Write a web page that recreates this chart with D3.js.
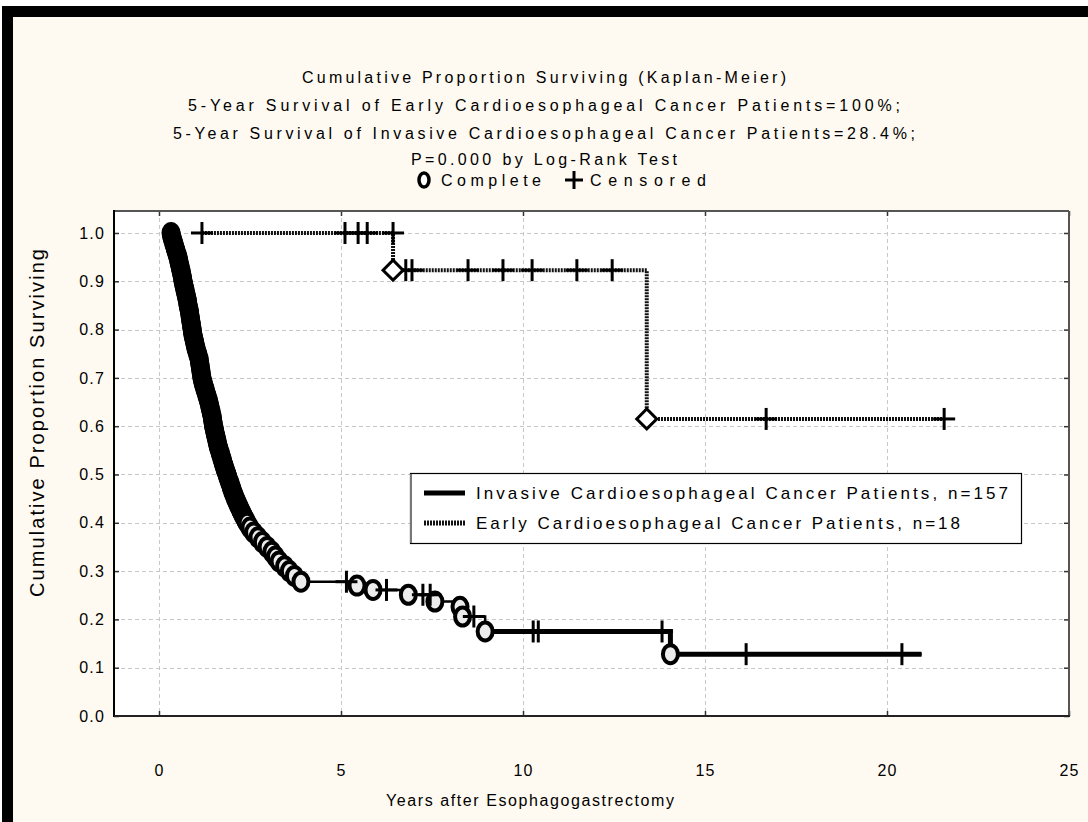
<!DOCTYPE html>
<html><head><meta charset="utf-8">
<script src="https://cdn.jsdelivr.net/npm/d3@7"></script>
<style>
body{margin:0;background:#fff}
svg{display:block}
text{font-family:"Liberation Sans",Arial,sans-serif;fill:#000}
</style>
</head><body>
<svg id="c" width="1088" height="822"></svg>
<script>
// ---------- data ----------
const titleLines = [
  "Cumulative Proportion Surviving (Kaplan-Meier)",
  "5-Year Survival of Early Cardioesophageal Cancer Patients=100%;",
  "5-Year Survival of Invasive Cardioesophageal Cancer Patients=28.4%;",
  "P=0.000 by Log-Rank Test"
];
const markerLegend = ["Complete", "Censored"];
const seriesNames = ["Invasive Cardioesophageal Cancer Patients, n=157", "Early Cardioesophageal Cancer Patients, n=18"];
const xTitle = "Years after Esophagogastrectomy";
const yTitle = "Cumulative Proportion Surviving";
const xTicks = [0, 5, 10, 15, 20, 25];
const yTicks = [0.0, 0.1, 0.2, 0.3, 0.4, 0.5, 0.6, 0.7, 0.8, 0.9, 1.0];

// Invasive group: completed (event) points
const invEventTime = [
  0.33,0.345,0.36,0.38,0.40,0.42,0.44,0.46,0.48,0.50,0.52,0.535,0.55,0.565,0.58,0.595,0.61,0.625,0.64,0.65,
  0.66,0.675,0.69,0.705,0.72,0.735,0.75,0.765,0.78,0.79,0.80,0.815,0.83,0.84,0.85,0.86,0.87,0.88,0.89,0.90,
  0.91,0.92,0.93,0.945,0.96,0.975,0.99,1.005,1.02,1.04,1.06,1.08,1.10,1.11,1.12,1.13,1.14,1.15,1.16,1.17,
  1.18,1.195,1.21,1.23,1.25,1.27,1.29,1.31,1.33,1.35,1.37,1.385,1.40,1.415,1.43,1.445,1.46,1.47,1.48,1.49,
  1.50,1.515,1.53,1.545,1.56,1.575,1.59,1.605,1.62,1.64,1.66,1.68,1.70,1.72,1.74,1.76,1.78,1.80,1.82,1.845,
  1.87,1.89,1.91,1.935,1.96,1.98,2.00,2.025,2.05,2.075,2.10,2.13,2.16,2.19,2.22,2.25,2.28,2.315,2.35,2.385,
  2.42,2.50,2.60,2.72,2.84,2.97,3.10,3.20,3.30,3.45,3.58,3.72,3.90,
  5.44,5.88,6.85,7.58,8.27,8.34,8.96,14.05];
const invEventSurv = [
  1.000,0.995,0.990,0.985,0.980,0.975,0.970,0.965,0.960,0.955,0.950,0.945,0.940,0.935,0.930,0.925,0.920,0.915,0.910,0.905,
  0.900,0.895,0.890,0.885,0.880,0.875,0.870,0.865,0.860,0.855,0.850,0.845,0.840,0.835,0.830,0.825,0.820,0.815,0.810,0.805,
  0.800,0.795,0.790,0.785,0.780,0.775,0.770,0.765,0.760,0.755,0.750,0.745,0.740,0.735,0.730,0.725,0.720,0.715,0.710,0.705,
  0.700,0.695,0.690,0.685,0.680,0.675,0.670,0.665,0.660,0.655,0.650,0.645,0.640,0.635,0.630,0.625,0.620,0.615,0.610,0.605,
  0.600,0.595,0.590,0.585,0.580,0.575,0.570,0.565,0.560,0.555,0.550,0.545,0.540,0.535,0.530,0.525,0.520,0.515,0.510,0.505,
  0.500,0.495,0.490,0.485,0.480,0.475,0.470,0.465,0.460,0.455,0.450,0.445,0.440,0.435,0.430,0.425,0.420,0.415,0.410,0.405,
  0.400,0.390,0.380,0.370,0.360,0.350,0.340,0.330,0.320,0.310,0.300,0.290,0.278,
  0.270,0.261,0.251,0.237,0.226,0.206,0.175,0.128];
const invLastTime = 20.95;
const invCensorTime = [5.15, 6.25, 7.25, 7.45, 8.65, 10.28, 10.42, 13.82, 16.13, 20.41];
const invCensorSurv = [0.278, 0.261, 0.251, 0.251, 0.206, 0.175, 0.175, 0.175, 0.128, 0.128];

// Early group
const earlyCurveTime = [1.18, 6.43, 13.4, 21.6];
const earlyCurveSurv = [1.0, 0.923, 0.615, 0.615];
const earlyEventTime = [6.43, 13.4];
const earlyEventSurv = [0.923, 0.615];
const earlyCensorTime = [1.18, 5.11, 5.47, 5.72, 6.43, 6.78, 6.95, 8.49, 9.45, 10.25, 11.48, 12.45, 16.68, 21.57];
const earlyCensorSurv = [1.0, 1.0, 1.0, 1.0, 1.0, 0.923, 0.923, 0.923, 0.923, 0.923, 0.923, 0.923, 0.615, 0.615];

// ---------- drawing ----------
const FONT = '"Liberation Sans",Arial,sans-serif';
const svg = d3.select("#c");
svg.append("rect").attr("x",0).attr("y",0).attr("width",1088).attr("height",822).attr("fill","#fff");
svg.append("rect").attr("x",2).attr("y",6).attr("width",1086).attr("height",816).attr("fill","#000");
svg.append("rect").attr("x",13).attr("y",17).attr("width",1075).attr("height",805).attr("fill","#fffaf1");

const L = 114, R = 1069, T = 211, B = 716;
const x = d3.scaleLinear().domain([-1.236, 25]).range([L, R]);
const y = d3.scaleLinear().domain([0, 1.0455]).range([B, T]);

svg.append("rect").attr("x",L).attr("y",T).attr("width",R-L).attr("height",B-T).attr("fill","#fff");

// grid
const grid = svg.append("g").attr("stroke","#c8c8c8").attr("stroke-width",1).attr("stroke-dasharray","4,3");
grid.selectAll("line.h").data(yTicks.filter(d => d > 0)).join("line")
  .attr("x1",L).attr("x2",R).attr("y1",d=>Math.round(y(d))+0.5).attr("y2",d=>Math.round(y(d))+0.5);
grid.selectAll("line.v").data(xTicks.filter(d => d < 25)).join("line")
  .attr("y1",T).attr("y2",B).attr("x1",d=>Math.round(x(d))+0.5).attr("x2",d=>Math.round(x(d))+0.5);

// axes
const fmt = d3.format(".1f");
const gy = svg.append("g").attr("transform",`translate(${L},0)`)
  .call(d3.axisLeft(y).tickValues(yTicks).tickFormat(fmt).tickSize(-5).tickPadding(9));
const gx = svg.append("g").attr("transform",`translate(0,${B})`)
  .call(d3.axisBottom(x).tickValues(xTicks).tickFormat(d3.format("d")).tickSize(-5).tickPadding(49));
const gyr = svg.append("g").attr("transform",`translate(${R},0)`)
  .call(d3.axisRight(y).tickValues(yTicks).tickFormat("").tickSize(-5));
const gxt = svg.append("g").attr("transform",`translate(0,${T})`)
  .call(d3.axisTop(x).tickValues(xTicks).tickFormat("").tickSize(-5));
[gy,gx,gyr,gxt].forEach(g => { g.select(".domain").remove(); g.selectAll(".tick line").attr("stroke","#333").attr("stroke-width",1.5); });
[gy,gx].forEach(g => g.selectAll(".tick text").attr("font-size",16).attr("letter-spacing","1.2px")
  .attr("font-family",FONT).attr("fill","#000"));

// frame
svg.append("line").attr("x1",L).attr("x2",R).attr("y1",T).attr("y2",T).attr("stroke","#555").attr("stroke-width",2);
svg.append("line").attr("x1",R).attr("x2",R).attr("y1",T).attr("y2",B).attr("stroke","#555").attr("stroke-width",2);
svg.append("line").attr("x1",L).attr("x2",L).attr("y1",T-1).attr("y2",B+1).attr("stroke","#000").attr("stroke-width",2);
svg.append("line").attr("x1",L).attr("x2",R+1).attr("y1",B).attr("y2",B).attr("stroke","#222").attr("stroke-width",2);

// titles
const titleY = [83, 111, 139, 165];
const titleW = [484, 712, 742, 266];
svg.selectAll("text.title").data(titleLines).join("text").attr("class","title")
  .attr("x",544).attr("y",(d,i)=>titleY[i]).attr("text-anchor","middle").attr("font-size",16)
  .attr("textLength",(d,i)=>titleW[i]).attr("lengthAdjust","spacing").text(d=>d);

// axis titles
svg.append("text").attr("x",530).attr("y",806).attr("text-anchor","middle").attr("font-size",16)
  .attr("textLength",288).attr("lengthAdjust","spacing").text(xTitle);
svg.append("text").attr("transform","translate(44,423) rotate(-90)").attr("text-anchor","middle")
  .attr("font-size",20).attr("textLength",348).attr("lengthAdjust","spacing").text(yTitle);

// marker helpers
function plus(g, cx, cy, s, w) {
  g.append("line").attr("x1",cx-s).attr("x2",cx+s).attr("y1",cy).attr("y2",cy).attr("stroke","#000").attr("stroke-width",w);
  g.append("line").attr("x1",cx).attr("x2",cx).attr("y1",cy-s).attr("y2",cy+s).attr("stroke","#000").attr("stroke-width",w);
}

// marker legend (top)
const ml = svg.append("g");
ml.append("ellipse").attr("cx",424).attr("cy",180).attr("rx",5).attr("ry",7).attr("fill","#fff").attr("stroke","#000").attr("stroke-width",3.5);
ml.append("text").attr("x",441).attr("y",186).attr("font-size",16).attr("textLength",100).attr("lengthAdjust","spacing").text(markerLegend[0]);
plus(ml, 574, 180, 9, 3);
ml.append("text").attr("x",590).attr("y",186).attr("font-size",16).attr("textLength",116).attr("lengthAdjust","spacing").text(markerLegend[1]);

// Early group: dotted step line
const step = d3.line().x(d=>x(d[0])).y(d=>y(d[1])).curve(d3.curveStepAfter);
const earlyStep = earlyCurveTime.map((t,i)=>[t, earlyCurveSurv[i]]);
svg.append("path").attr("d", step(earlyStep)).attr("fill","none").attr("stroke","#111")
  .attr("stroke-width",4).attr("stroke-dasharray","2,1");

// Invasive group line
const invPts = invEventTime.map((t,i)=>[t, invEventSurv[i]]);
invPts.push([invLastTime, invEventSurv[invEventSurv.length-1]]);
svg.append("path").attr("d", step(invPts)).attr("fill","none").attr("stroke","#000").attr("stroke-width",2.5);
svg.append("path").attr("d", step(invPts.filter(d => d[0] >= 8.96))).attr("fill","none").attr("stroke","#000").attr("stroke-width",5);

// invasive circles
svg.append("g").selectAll("ellipse").data(invPts.slice(0, invEventTime.length)).join("ellipse")
  .attr("cx",d=>x(d[0])).attr("cy",d=>y(d[1])).attr("rx",7.5).attr("ry",9)
  .attr("fill","#ececec").attr("stroke","#000").attr("stroke-width",4);

// censored marks
const cg = svg.append("g");
invCensorTime.forEach((t,i) => plus(cg, x(t), y(invCensorSurv[i]), 11, 3));
earlyCensorTime.forEach((t,i) => plus(cg, x(t), y(earlyCensorSurv[i]), 11, 3));

// early diamonds
const sym = d3.symbol().type(d3.symbolSquare).size(200);
svg.append("g").selectAll("path").data(earlyEventTime.map((t,i)=>[t, earlyEventSurv[i]])).join("path")
  .attr("d", sym).attr("transform", d=>`translate(${x(d[0])},${y(d[1])}) rotate(45)`)
  .attr("fill","#fff").attr("stroke","#000").attr("stroke-width",3);

// series legend
const lg = svg.append("g");
lg.append("rect").attr("x",410.5).attr("y",473.5).attr("width",611).attr("height",70).attr("fill","#fff").attr("stroke","#000").attr("stroke-width",1.2);
lg.append("line").attr("x1",411).attr("x2",411).attr("y1",474).attr("y2",543).attr("stroke","#777").attr("stroke-width",2);
lg.append("line").attr("x1",424).attr("x2",465).attr("y1",493).attr("y2",493).attr("stroke","#000").attr("stroke-width",5);
lg.append("line").attr("x1",424).attr("x2",465).attr("y1",523).attr("y2",523).attr("stroke","#111").attr("stroke-width",5).attr("stroke-dasharray","2,1");
lg.append("text").attr("x",476).attr("y",499).attr("font-size",17).attr("textLength",532).attr("lengthAdjust","spacing").text(seriesNames[0]);
lg.append("text").attr("x",476).attr("y",529).attr("font-size",17).attr("textLength",484).attr("lengthAdjust","spacing").text(seriesNames[1]);
</script>
</body></html>
